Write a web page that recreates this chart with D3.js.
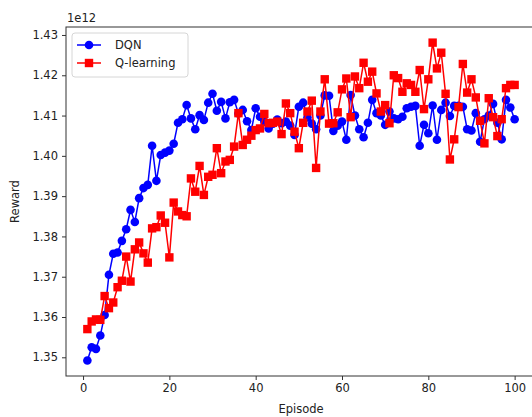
<!DOCTYPE html>
<html>
<head>
<meta charset="utf-8">
<script src="https://cdn.jsdelivr.net/npm/d3@7"></script>
<style>
  body { margin: 0; background: #ffffff; }
  text { font-family: "DejaVu Sans", sans-serif; }
</style>
</head>
<body>
<div id="chart"></div>
<script>
/* CONSTANTS AND GLOBALS */
const width = 532;
const height = 417;
const margin = { top: 27, right: -4, bottom: 41, left: 66 };

/* DATA (reward, in units of 1e12) */
const episodes = d3.range(1, 101);

const dqn = [
  1.3492, 1.3525, 1.3521, 1.3554, 1.3605, 1.3705, 1.3757, 1.3760, 1.3789, 1.3818,
  1.3866, 1.3836, 1.3895, 1.3920, 1.3928, 1.4025, 1.3938, 1.4002, 1.4008, 1.4013,
  1.4030, 1.4082, 1.4091, 1.4126, 1.4093, 1.4066, 1.4101, 1.4089, 1.4132, 1.4154,
  1.4112, 1.4134, 1.4093, 1.4133, 1.4139, 1.4105, 1.4114, 1.4086, 1.4064, 1.4118,
  1.4097, 1.4085, 1.4068, 1.4080, 1.4090, 1.4081, 1.4085, 1.4075, 1.4052, 1.4122,
  1.4132, 1.4095, 1.4080, 1.4066, 1.4100, 1.4150, 1.4149, 1.4062, 1.4075, 1.4085,
  1.4040, 1.4151, 1.4100, 1.4066, 1.4046, 1.4082, 1.4139, 1.4106, 1.4100, 1.4077,
  1.4110, 1.4093, 1.4091, 1.4097, 1.4118, 1.4122, 1.4124, 1.4025, 1.4077, 1.4056,
  1.4125, 1.4040, 1.4114, 1.4132, 1.4099, 1.4124, 1.4124, 1.4122, 1.4066, 1.4063,
  1.4106, 1.4035, 1.4091, 1.4100, 1.4129, 1.4082, 1.4041, 1.4139, 1.4120, 1.4091
];

const qLearning = [
  1.3570, 1.3589, 1.3594, 1.3593, 1.3652, 1.3622, 1.3636, 1.3674, 1.3690, 1.3750,
  1.3688, 1.3768, 1.3785, 1.3758, 1.3735, 1.3820, 1.3823, 1.3852, 1.3834, 1.3748,
  1.3884, 1.3862, 1.3853, 1.3850, 1.3944, 1.3911, 1.3975, 1.3903, 1.3948, 1.3953,
  1.4019, 1.3957, 1.3986, 1.3990, 1.4023, 1.4106, 1.4027, 1.4040, 1.4050, 1.4064,
  1.4068, 1.4104, 1.4081, 1.4082, 1.4085, 1.4054, 1.4130, 1.4106, 1.4060, 1.4019,
  1.4082, 1.4110, 1.4137, 1.3970, 1.4110, 1.4190, 1.4080, 1.4081, 1.4108, 1.4165,
  1.4192, 1.4096, 1.4197, 1.4168, 1.4231, 1.4184, 1.4209, 1.4155, 1.4110, 1.4126,
  1.4081, 1.4200, 1.4193, 1.4159, 1.4180, 1.4176, 1.4159, 1.4213, 1.4116, 1.4190,
  1.4281, 1.4217, 1.4256, 1.4154, 1.3991, 1.4041, 1.4121, 1.4228, 1.4157, 1.4190,
  1.4145, 1.4087, 1.4031, 1.4143, 1.4096, 1.4049, 1.4091, 1.4168, 1.4176, 1.4176
];

const xTicks = [0, 20, 40, 60, 80, 100];
const yTicks = [1.35, 1.36, 1.37, 1.38, 1.39, 1.40, 1.41, 1.42, 1.43];

const seriesNames = ["DQN", "Q-learning"];
const seriesColors = ["#0000ff", "#ff0000"];

const svg = d3.select("#chart")
  .append("svg")
  .attr("width", width)
  .attr("height", height)
  .style("background-color", "#ffffff");

/**********/
/* SCALES */
/**********/
const xScale = d3.scaleLinear()
  .domain([-3.95, 104.95])
  .range([margin.left, width - margin.right]);

const yScale = d3.scaleLinear()
  .domain([1.34536, 1.43198])
  .range([height - margin.bottom, margin.top]);

/********/
/* AXES */
/********/
svg.append("g")
  .attr("class", "x-axis")
  .attr("transform", `translate(0,${height - margin.bottom})`)
  .call(d3.axisBottom(xScale).tickValues(xTicks).tickSize(4).tickPadding(4).tickSizeOuter(0));

svg.append("g")
  .attr("class", "y-axis")
  .attr("transform", `translate(${margin.left},0)`)
  .call(d3.axisLeft(yScale).tickValues(yTicks).tickFormat(d3.format(".2f")).tickSize(4).tickPadding(4).tickSizeOuter(0));

svg.selectAll(".x-axis text, .y-axis text")
  .style("font-size", "11.5px")
  .attr("fill", "#222");
svg.selectAll(".x-axis .tick line, .y-axis .tick line").attr("stroke", "#333");
svg.selectAll(".domain").remove();

// frame
svg.append("rect")
  .attr("x", margin.left)
  .attr("y", margin.top)
  .attr("width", width - margin.right - margin.left)
  .attr("height", height - margin.bottom - margin.top)
  .attr("fill", "none")
  .attr("stroke", "#333")
  .attr("stroke-width", 1);

// offset text
svg.append("text")
  .attr("x", margin.left + 1)
  .attr("y", 22)
  .style("font-size", "11.5px")
  .attr("fill", "#222")
  .text("1e12");

// axis labels
svg.append("text")
  .attr("x", (margin.left + width - margin.right) / 2)
  .attr("y", 413)
  .style("text-anchor", "middle")
  .style("font-size", "11.5px")
  .attr("fill", "#222")
  .text("Episode");

svg.append("text")
  .attr("transform", `translate(19,${(margin.top + height - margin.bottom) / 2}) rotate(-90)`)
  .style("text-anchor", "middle")
  .style("font-size", "11.5px")
  .attr("fill", "#222")
  .text("Reward");

/*********/
/* LINES */
/*********/
const line = d3.line()
  .x((d, i) => xScale(episodes[i]))
  .y(d => yScale(d));

const plot = svg.append("g");

// DQN
plot.append("path")
  .datum(dqn)
  .attr("fill", "none")
  .attr("stroke", seriesColors[0])
  .attr("stroke-width", 1.5)
  .attr("d", line);

plot.selectAll(".dqn-dot")
  .data(dqn)
  .join("circle")
  .attr("class", "dqn-dot")
  .attr("cx", (d, i) => xScale(episodes[i]))
  .attr("cy", d => yScale(d))
  .attr("r", 4.3)
  .attr("fill", seriesColors[0]);

// Q-learning
plot.append("path")
  .datum(qLearning)
  .attr("fill", "none")
  .attr("stroke", seriesColors[1])
  .attr("stroke-width", 1.5)
  .attr("d", line);

plot.selectAll(".q-dot")
  .data(qLearning)
  .join("rect")
  .attr("class", "q-dot")
  .attr("x", (d, i) => xScale(episodes[i]) - 4.2)
  .attr("y", d => yScale(d) - 4.2)
  .attr("width", 8.4)
  .attr("height", 8.4)
  .attr("fill", seriesColors[1]);

/**********/
/* LEGEND */
/**********/
const legend = svg.append("g");

legend.append("rect")
  .attr("x", 72)
  .attr("y", 33)
  .attr("width", 116)
  .attr("height", 44)
  .attr("rx", 3)
  .attr("fill", "#ffffff")
  .attr("fill-opacity", 0.8)
  .attr("stroke", "#d6d6d6");

seriesNames.forEach((name, i) => {
  const ly = 45 + i * 18;
  legend.append("line")
    .attr("x1", 77).attr("x2", 101)
    .attr("y1", ly).attr("y2", ly)
    .attr("stroke", seriesColors[i])
    .attr("stroke-width", 1.5);
  if (i === 0) {
    legend.append("circle")
      .attr("cx", 89).attr("cy", ly).attr("r", 4.3)
      .attr("fill", seriesColors[i]);
  } else {
    legend.append("rect")
      .attr("x", 84.8).attr("y", ly - 4.2).attr("width", 8.4).attr("height", 8.4)
      .attr("fill", seriesColors[i]);
  }
  legend.append("text")
    .attr("x", 115)
    .attr("y", ly + 4)
    .style("font-size", "11.5px")
    .attr("fill", "#222")
    .text(name);
});
</script>
</body>
</html>
